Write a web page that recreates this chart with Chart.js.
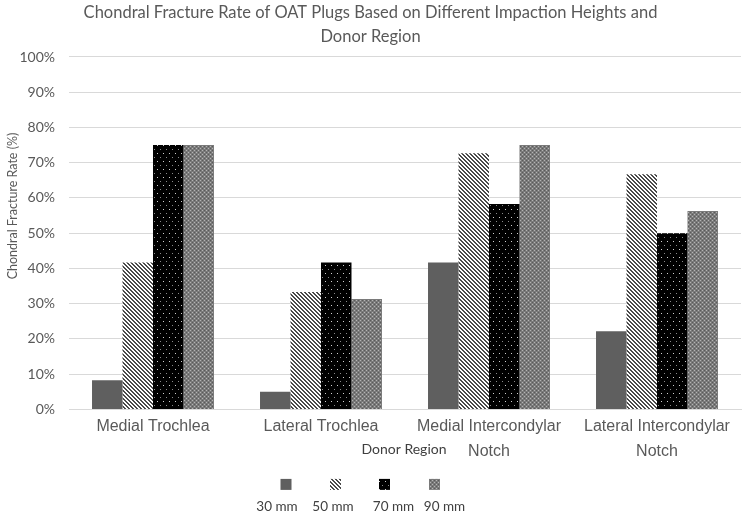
<!DOCTYPE html>
<html>
<head>
<meta charset="utf-8">
<script src="https://cdn.jsdelivr.net/npm/chart.js@4"></script>
<style>
  body { margin: 0; background: #fff; }
  #wrap { width: 743px; height: 513px; }
</style>
</head>
<body>
<div id="wrap"><canvas id="chart" width="743" height="513"></canvas></div>
<script>
// data
const regions = [
  'Medial Trochlea',
  'Lateral Trochlea',
  ['Medial Intercondylar', 'Notch'],
  ['Lateral Intercondylar', 'Notch']
];
const seriesNames = ['30 mm', '50 mm', '70 mm', '90 mm'];
const rate30 = [8.3, 5.0, 41.7, 22.2];
const rate50 = [41.7, 33.3, 72.7, 66.7];
const rate70 = [75.0, 41.7, 58.3, 50.0];
const rate90 = [75.0, 31.3, 75.0, 56.3];
const yTicks = [0, 10, 20, 30, 40, 50, 60, 70, 80, 90, 100];

const grey = '#595959';

// little pattern tiles, like the Excel fills
function tile(w, h, draw) {
  const c = document.createElement('canvas');
  c.width = w; c.height = h;
  const g = c.getContext('2d');
  draw(g);
  return document.getElementById('chart').getContext('2d').createPattern(c, 'repeat');
}

const fill30 = '#5f5f5f';
const fill50 = tile(4, 4, g => {
  g.fillStyle = '#ffffff'; g.fillRect(0, 0, 4, 4);
  g.fillStyle = '#4a4a4a';
  for (let y = 0; y < 4; y++) {
    for (let x = 0; x < 4; x++) {
      if (((x - y + 8) % 4) < 2) g.fillRect(x, y, 1, 1);
    }
  }
});
const fill70 = tile(6, 8, g => {
  g.fillStyle = '#000000'; g.fillRect(0, 0, 6, 8);
  g.fillStyle = '#d0d0d0'; g.fillRect(1, 1, 1, 1);
  g.fillStyle = '#8a8a8a'; g.fillRect(4, 5, 1, 1);
});
const fill90 = tile(4, 4, g => {
  g.fillStyle = '#7a7a7a'; g.fillRect(0, 0, 4, 4);
  g.fillStyle = '#b4b4b4';
  g.fillRect(0, 0, 1, 1); g.fillRect(2, 2, 1, 1);
  g.fillStyle = '#5a5a5a';
  g.fillRect(2, 0, 1, 1); g.fillRect(0, 2, 1, 1);
});
const fills = [fill30, fill50, fill70, fill90];

// y title, x title and legend (label under the swatch) drawn by hand
const extras = {
  id: 'extras',
  afterDraw(chart) {
    const ctx = chart.ctx;
    const area = chart.chartArea;
    ctx.save();
    ctx.textAlign = 'center';
    ctx.textBaseline = 'middle';

    ctx.save();
    ctx.translate(13, 206);
    ctx.rotate(-Math.PI / 2);
    ctx.fillStyle = grey;
    ctx.font = '12.5px Lato';
    ctx.fillText('Chondral Fracture Rate (%)', 0, 0);
    ctx.restore();

    ctx.fillStyle = '#404040';
    ctx.font = '14px Lato';
    ctx.fillText('Donor Region', 404, area.bottom + 40);

    const boxX = [286, 335.5, 384.5, 434.5];
    const textX = [277, 333, 393.5, 444.5];
    chart.data.datasets.forEach((ds, i) => {
      ctx.fillStyle = ds.backgroundColor;
      ctx.fillRect(boxX[i] - 5.5, area.bottom + 69.5, 11, 11);
      ctx.fillStyle = '#404040';
      ctx.font = '13.5px Lato';
      ctx.fillText(ds.label, textX[i], area.bottom + 97);
    });
    ctx.restore();
  }
};

new Chart(document.getElementById('chart'), {
  type: 'bar',
  data: {
    labels: regions,
    datasets: [
      { label: seriesNames[0], data: rate30, backgroundColor: fills[0] },
      { label: seriesNames[1], data: rate50, backgroundColor: fills[1] },
      { label: seriesNames[2], data: rate70, backgroundColor: fills[2] },
      { label: seriesNames[3], data: rate90, backgroundColor: fills[3] }
    ]
  },
  options: {
    responsive: false,
    animation: false,
    layout: { padding: { left: 0, right: 2, top: 0, bottom: 44 } },
    datasets: { bar: { barPercentage: 1, categoryPercentage: 0.726 } },
    plugins: {
      legend: { display: false },
      tooltip: { enabled: false },
      title: {
        display: true,
        text: ['Chondral Fracture Rate of OAT Plugs Based on Different Impaction Heights and', 'Donor Region'],
        color: grey,
        font: { family: 'Lato', size: 16.5, weight: 'normal', lineHeight: 1.4545 },
        padding: { top: 1, bottom: 8 }
      }
    },
    scales: {
      x: {
        grid: { display: false, drawTicks: false },
        border: { color: '#d9d9d9' },
        ticks: {
          color: grey,
          font: { family: 'Liberation Sans', size: 16, lineHeight: 1.55 },
          padding: 5,
          maxRotation: 0,
          autoSkip: false
        }
      },
      y: {
        min: 0,
        max: 100,
        afterBuildTicks(axis) { axis.ticks = yTicks.map(v => ({ value: v })); },
        afterFit(axis) { axis.width = 69; },
        grid: { color: '#d9d9d9', drawTicks: false },
        border: { display: false },
        ticks: {
          color: grey,
          font: { family: 'Lato', size: 14 },
          padding: 14,
          callback: v => v + '%'
        }
      }
    }
  },
  plugins: [extras]
});
</script>
</body>
</html>
